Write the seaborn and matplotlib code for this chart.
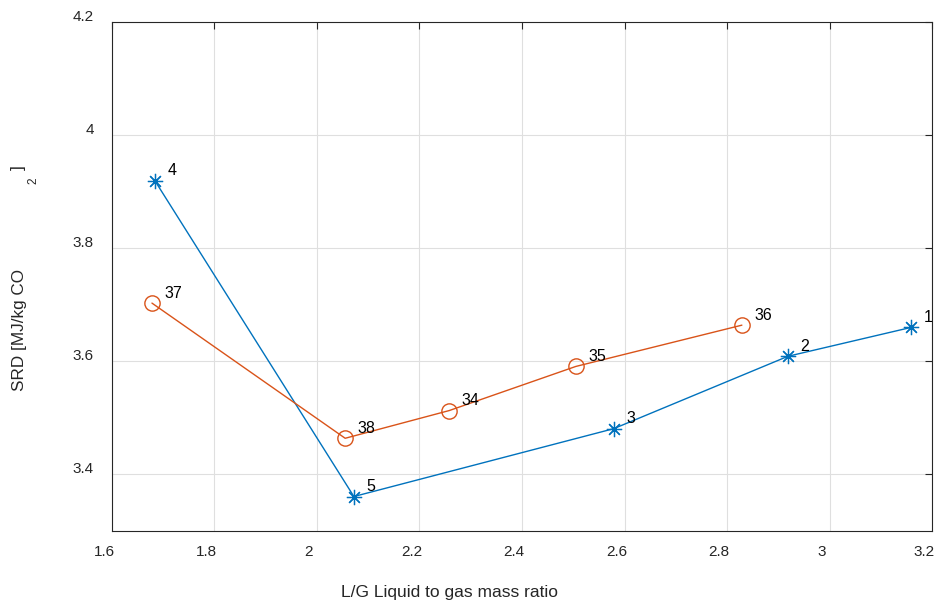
import pandas as pd
import numpy as np
import matplotlib.pyplot as plt
import matplotlib.transforms as mtransforms
import seaborn as sns

# data
lg_blue = [1.684, 2.072, 2.579, 2.919, 3.159]
srd_blue = [3.919, 3.361, 3.481, 3.609, 3.660]
ids_blue = ["4", "5", "3", "2", "1"]

lg_orange = [1.678, 2.055, 2.258, 2.505, 2.829]
srd_orange = [3.703, 3.464, 3.513, 3.591, 3.664]
ids_orange = ["37", "38", "34", "35", "36"]

x_ticks = [1.6, 1.8, 2.0, 2.2, 2.4, 2.6, 2.8, 3.0, 3.2]
x_tick_labels = ["1.6", "1.8", "2", "2.2", "2.4", "2.6", "2.8", "3", "3.2"]
y_ticks = [3.4, 3.6, 3.8, 4.0, 4.2]
y_tick_labels = ["3.4", "3.6", "3.8", "4", "4.2"]

df_blue = pd.DataFrame({"lg": lg_blue, "srd": srd_blue, "id": ids_blue})
df_orange = pd.DataFrame({"lg": lg_orange, "srd": srd_orange, "id": ids_orange})

sns.set_style("white")
plt.rcParams['font.family'] = ['Liberation Sans', 'DejaVu Sans']

blue = "#0072BD"
orange = "#D95319"
txt = "#262626"

fig = plt.figure(figsize=(9.37, 6.08), dpi=100)
ax = fig.add_axes([0.1195, 0.1266, 0.8752, 0.8372])

sns.lineplot(data=df_blue, x="lg", y="srd", sort=False, color=blue, lw=1.0,
             marker=(8, 2, 0), markersize=11, markeredgecolor=blue, markeredgewidth=0.9, ax=ax)
sns.lineplot(data=df_orange, x="lg", y="srd", sort=False, color=orange, lw=1.0,
             marker="o", markersize=11, markerfacecolor="none", markeredgecolor=orange,
             markeredgewidth=1.0, ax=ax)

for df in (df_blue, df_orange):
    for _, r in df.iterrows():
        ax.annotate(r["id"], (r["lg"], r["srd"]), xytext=(9, 4), textcoords="offset points",
                    fontsize=11.5, color="black")

ax.set_xlim(1.6, 3.2)
ax.set_ylim(3.3, 4.2)
ax.set_xticks(x_ticks)
ax.set_xticklabels(x_tick_labels)
ax.set_yticks(y_ticks)
ax.set_yticklabels(y_tick_labels)
ax.grid(True, color="#dfdfdf", lw=0.8)
ax.tick_params(direction="in", length=5, width=0.8, labelsize=11, top=True, right=True,
               colors=txt)
ax.tick_params(axis="x", pad=10)
ax.tick_params(axis="y", pad=13)
for s in ax.spines.values():
    s.set_color(txt)
    s.set_linewidth(0.8)

# tick labels in the reference sit a little off their ticks
dx = mtransforms.ScaledTranslation(-8 / 100, 0, fig.dpi_scale_trans)
for lab in ax.get_xticklabels():
    lab.set_transform(lab.get_transform() + dx)
dy = mtransforms.ScaledTranslation(0, 7 / 100, fig.dpi_scale_trans)
for lab in ax.get_yticklabels():
    lab.set_transform(lab.get_transform() + dy)

ax.set_xlabel("")
ax.set_ylabel("")
fig.text(450 / 937, 1 - 592 / 608, "L/G Liquid to gas mass ratio", ha="center", va="center",
         fontsize=12.5, color=txt)
# y label, drawn in pieces as in the reference
fig.text(20 / 937, 1 - 330 / 608, "SRD [MJ/kg CO", rotation=90, ha="center", va="center",
         fontsize=12.3, color=txt)
fig.text(18 / 937, 1 - 168 / 608, "]", rotation=90, ha="center", va="center", fontsize=12.3, color=txt)
fig.text(33 / 937, 1 - 181 / 608, "2", rotation=90, ha="center", va="center", fontsize=8.5, color=txt)

fig.savefig("out.png", dpi=100)
